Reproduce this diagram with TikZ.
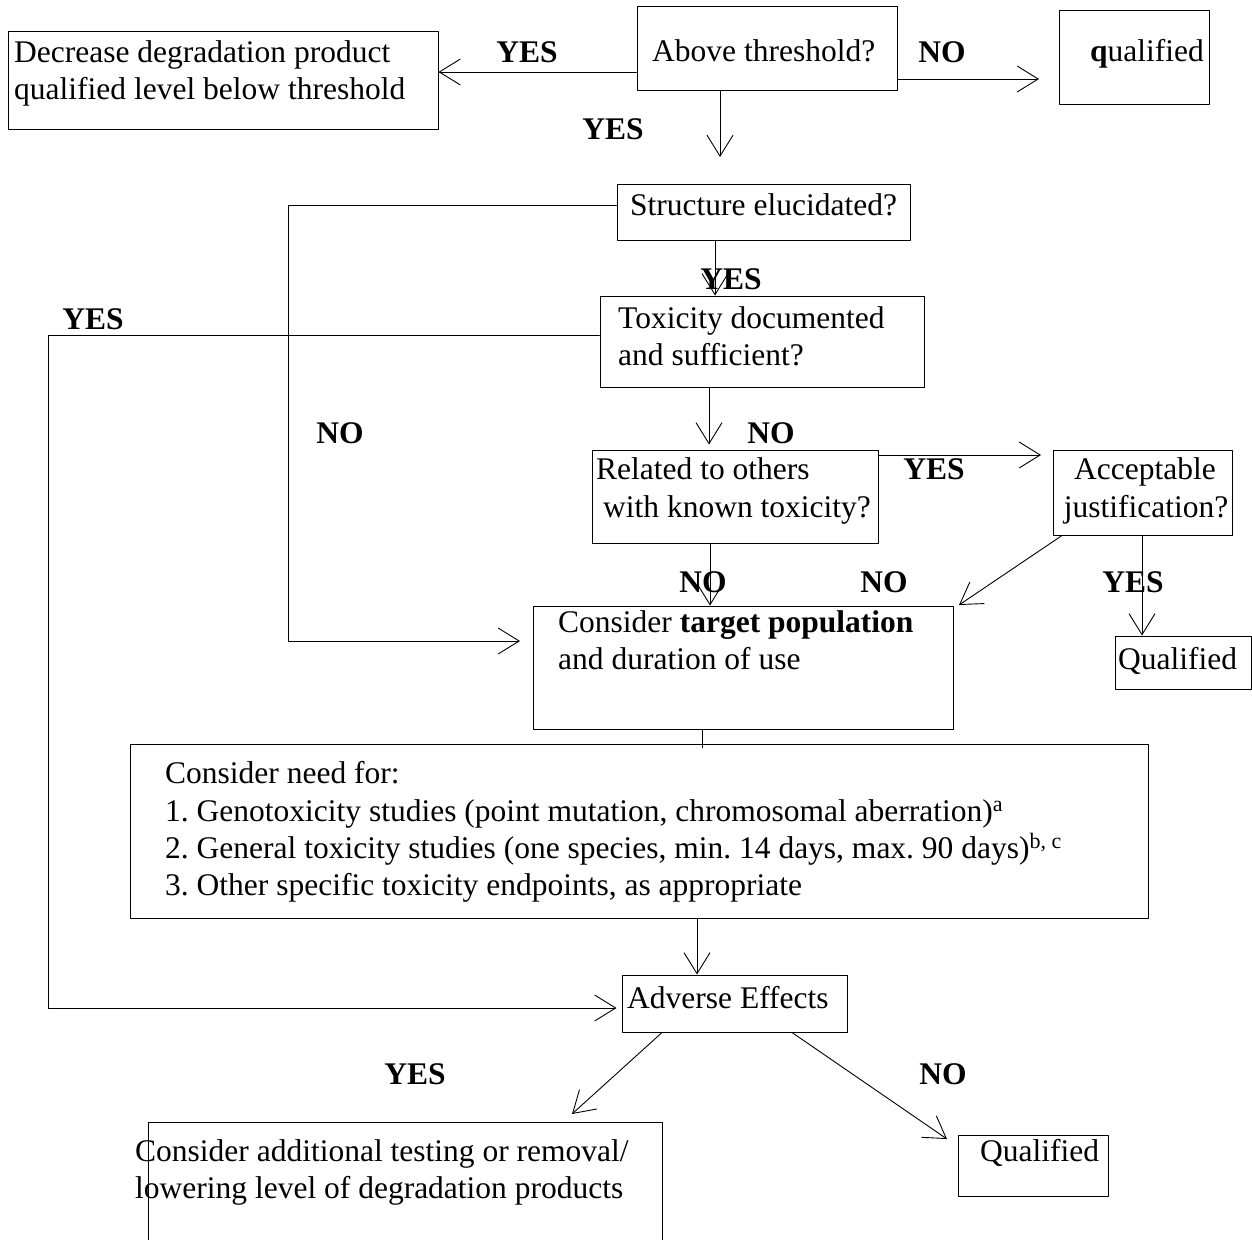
\documentclass[tikz,border=0pt]{standalone}
\usepackage{fontspec}
\setmainfont{Liberation Serif}
\usetikzlibrary{arrows.meta,fit}
\frenchspacing
\newcommand\chartfont{\fontsize{31.5}{37}\selectfont}
\tikzset{
  box/.style={draw, line width=1pt, inner sep=0pt},
  txt/.style={inner sep=0pt, anchor=base west},
  ans/.style={inner sep=0pt, anchor=base, font=\chartfont\bfseries},
  arr/.style={-{Straight Barb[length=21pt,width=26pt]}, line width=0.9pt},
}
\begin{document}
\begin{tikzpicture}[x=1pt, y=-1pt, font=\chartfont, line join=round, line cap=round]
	\useasboundingbox (0,0) rectangle (1252,1239);
	% boxes
	\node[box, fit={(8,32) (438,129)}] (dec) {};
	\node[box, fit={(637,7) (897,90)}] (above) {};
	\node[box, fit={(1059,11) (1209,104)}] (qualA) {};
	\node[box, fit={(617,184) (910,240)}] (struct) {};
	\node[box, fit={(600,296) (924,387)}] (tox) {};
	\node[box, fit={(592,450) (878,543)}] (related) {};
	\node[box, fit={(1053,450) (1232,535)}] (accept) {};
	\node[box, fit={(533,606) (953,729)}] (consider) {};
	\node[box, fit={(1115,636) (1251,689)}] (qualB) {};
	\node[box, fit={(130,744) (1148,918)}] (need) {};
	\node[box, fit={(622,975) (847,1032)}] (adverse) {};
	\node[box, fit={(148,1122) (662,1270)}] (lower) {};
	\node[box, fit={(958,1135) (1108,1196)}] (qualC) {};
	% texts
	\node[txt] (decT1) at (14,63) {Decrease degradation product};
	\node[txt] (decT2) at (14,99) {qualified level below threshold};
	\node[txt] (aboveT) at (652,62) {Above threshold?};
	\node[txt] (qualAT) at (1090,62) {\textbf{q}ualified};
	\node[txt] (structT) at (630,215) {Structure elucidated?};
	\node[txt] (toxT1) at (618,328) {Toxicity documented};
	\node[txt] (toxT2) at (618,365) {and sufficient?};
	\node[txt] (relT1) at (596,479) {Related to others};
	\node[txt] (relT2) at (603,517) {with known toxicity?};
	\node[txt, anchor=base] (accT1) at (1145,479) {Acceptable};
	\node[txt, anchor=base] (accT2) at (1146,517) {justification?};
	\node[txt] (conT1) at (558,632) {Consider \textbf{target population}};
	\node[txt] (conT2) at (558,669) {and duration of use};
	\node[txt] (qualBT) at (1118,669) {Qualified};
	\foreach \t/\y in {{Consider need for:}/783,
		{1. Genotoxicity studies (point mutation, chromosomal aberration)\textsuperscript{a}}/821,
		{2. General toxicity studies (one species, min. 14 days, max. 90 days)\textsuperscript{b, c}}/858,
		{3. Other specific toxicity endpoints, as appropriate}/895}
		{\node[txt] (needT\y) at (165,\y) {\t};}
	\node[txt] (advT) at (627,1008) {Adverse Effects};
	\node[txt] (lowT1) at (135,1161) {Consider additional testing or removal/};
	\node[txt] (lowT2) at (135,1198) {lowering level of degradation products};
	\node[txt] (qualCT) at (980,1161) {Qualified};
	% answers
	\foreach \a/\x/\y [count=\i] in {YES/527/63, NO/942/63, YES/613/139, YES/731/289, YES/93/329,
		NO/340/443, NO/771/443, YES/934/479, NO/703/592, NO/884/592, YES/1133/592, YES/415/1084, NO/943/1084}
		{\node[ans] (ans\i) at (\x,\y) {\a};}
	% free ends
	\path (1039,79) coordinate (qualTip) (720,157) coordinate (structTip) (520,641) coordinate (conTip)
		(1041,455) coordinate (accTip) (959,605) coordinate (conNE) (572,1114) coordinate (lowTip) (947,1139) coordinate (qualCTip);
	% connectors
	\draw[arr] (above.west |- 0,72) -- (dec.east |- 0,72);
	\draw[arr] (above.east |- 0,79) -- (qualTip);
	\draw[arr] (above.south -| 720,0) -- (structTip);
	\draw[arr] (struct.west |- 0,205) -| (288,641) -- (conTip);
	\draw[arr] (struct.south -| 715,0) -- (tox.north -| 715,0);
	\draw[arr] (tox.west |- 0,335) -| (48,1008) -- ([xshift=-5pt]adverse.west |- 0,1008);
	\draw[arr] (tox.south -| 709,0) -- ([yshift=5pt]related.north -| 709,0);
	\draw[arr] (related.east |- 0,455) -- (accTip);
	\draw[arr] (related.south -| 710,0) -- (consider.north -| 710,0);
	\draw[arr] (accept.south -| 1062,0) -- (conNE);
	\draw[arr] (accept.south -| 1142,0) -- (qualB.north -| 1142,0);
	\draw (consider.south -| 702,0) -- (702,748);
	\draw[arr] (need.south -| 697,0) -- (adverse.north -| 697,0);
	\draw[arr] (adverse.south -| 662,0) -- (lowTip);
	\draw[arr] (adverse.south -| 792,0) -- (qualCTip);
\end{tikzpicture}
\end{document}
